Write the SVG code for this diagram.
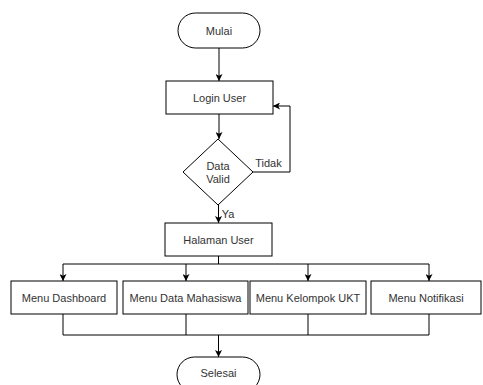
<svg xmlns="http://www.w3.org/2000/svg" width="483" height="385" viewBox="0 0 483 385">
<defs>
<marker id="ah" viewBox="0 0 10 10" refX="10" refY="5" markerWidth="7" markerHeight="7" orient="auto" markerUnits="userSpaceOnUse">
<path d="M0,0 L10,5 L0,10 L2.5,5 Z" fill="#000"/>
</marker>
<style>
.n{fill:#fff;stroke:#000;stroke-width:1}
.t{font-family:"Liberation Sans",Arial,sans-serif;font-size:11px;fill:#333;text-anchor:middle;dominant-baseline:central}
.c{fill:none;stroke:#000;stroke-width:1}
.ca{fill:none;stroke:#000;stroke-width:1;marker-end:url(#ah)}
</style>
</defs>
<rect width="483" height="385" fill="#fff"/>
<g id="connectors">
<path class="ca" d="M219,48 L219,81"/>
<path class="ca" d="M219,114 L219,139"/>
<path class="ca" d="M253,172 L290,172 L290,106 L273,106"/>
<path class="ca" d="M218.5,205 L218.5,223"/>
<path class="c" d="M218.5,256 L218.5,264"/>
<path class="c" d="M63,264 L429,264"/>
<path class="ca" d="M63,264 L63,281"/>
<path class="ca" d="M186,264 L186,281"/>
<path class="ca" d="M308,264 L308,281"/>
<path class="ca" d="M429,264 L429,281"/>
<path class="c" d="M63,314 L63,335 L429,335 L429,314"/>
<path class="c" d="M186,314 L186,335"/>
<path class="c" d="M308,314 L308,335"/>
<path class="ca" d="M218.5,335 L218.5,357"/>
<text class="t" x="268.5" y="163">Tidak</text>
<text class="t" x="228" y="214">Ya</text>
</g>
<g id="mulai">
<rect class="n" x="178" y="13" width="82" height="35" rx="17.5" ry="17.5" stroke-width="1.5"/>
<text class="t" x="219" y="30.5">Mulai</text>
</g>
<g id="login">
<rect class="n" x="166" y="81" width="107" height="33"/>
<text class="t" x="219.5" y="97.5">Login User</text>
</g>
<g id="valid">
<path class="n" d="M218,139 L253,172 L218,205 L183,172 Z"/>
<text class="t" x="218" y="166">Data</text>
<text class="t" x="218" y="179">Valid</text>
</g>
<g id="halaman">
<rect class="n" x="165" y="223" width="107" height="33"/>
<text class="t" x="218.5" y="239.5">Halaman User</text>
</g>
<g id="dashboard">
<rect class="n" x="11" y="281" width="106" height="33"/>
<text class="t" x="64" y="297.5">Menu Dashboard</text>
</g>
<g id="mahasiswa">
<rect class="n" x="123" y="281" width="125" height="33"/>
<text class="t" x="185.5" y="297.5">Menu Data Mahasiswa</text>
</g>
<g id="ukt">
<rect class="n" x="250" y="281" width="116" height="33"/>
<text class="t" x="308" y="297.5">Menu Kelompok UKT</text>
</g>
<g id="notifikasi">
<rect class="n" x="371" y="281" width="110" height="33"/>
<text class="t" x="426" y="297.5">Menu Notifikasi</text>
</g>
<g id="selesai">
<rect class="n" x="177" y="357" width="83" height="35" rx="17.5" ry="17.5" stroke-width="1.5"/>
<text class="t" x="218.5" y="373">Selesai</text>
</g>
</svg>
